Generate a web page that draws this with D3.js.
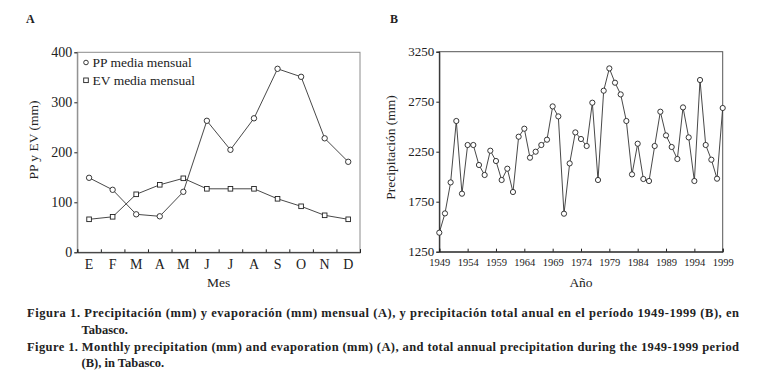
<!DOCTYPE html>
<html>
<head>
<meta charset="utf-8">
<script src="https://cdn.jsdelivr.net/npm/d3@7"></script>
<style>
  body { margin: 0; background: #fff; }
  svg { display: block; font-family: 'Liberation Serif', 'DejaVu Serif', serif; }
</style>
</head>
<body>
<svg id="chart"></svg>
<script>
// panel A - monthly means
const months = ['E', 'F', 'M', 'A', 'M', 'J', 'J', 'A', 'S', 'O', 'N', 'D'];
const ppMensual = [149, 125, 76, 72, 121, 263, 205, 268, 367, 351, 228, 181];
const evMensual = [66, 71, 116, 135, 148, 127, 127, 127, 107, 92, 74, 66];
const ticksA = [0, 100, 200, 300, 400];

// panel B - annual totals 1949-1999
const years = d3.range(1949, 2000);
const precipAnual = [1440, 1633, 1943, 2557, 1830, 2317, 2317, 2117, 2017, 2260,
  2157, 1967, 2080, 1847, 2400, 2480, 2190, 2250, 2317, 2370,
  2703, 2603, 1630, 2133, 2443, 2377, 2307, 2740, 1967, 2860,
  3083, 2940, 2823, 2557, 2023, 2330, 1977, 1957, 2307, 2650,
  2413, 2297, 2177, 2693, 2393, 1957, 2967, 2317, 2170, 1980,
  2687];
const ticksB = [1250, 1750, 2250, 2750, 3250];
const yearTicks = [1949, 1954, 1959, 1964, 1969, 1974, 1979, 1984, 1989, 1994, 1999];

const captions = [
  'Figura 1. Precipitación (mm) y evaporación (mm) mensual (A), y precipitación total anual en el período 1949-1999 (B), en',
  'Tabasco.',
  'Figure 1. Monthly precipitation (mm) and evaporation (mm) (A), and total annual precipitation during the 1949-1999 period',
  '(B), in Tabasco.'
];

const svg = d3.select('#chart')
.attr('width', 767)
.attr('height', 383);

svg.append('rect').attr('width', 767).attr('height', 383).attr('fill', '#fff');

const ink = '#222';

// ---------- panel A ----------
const xA = d3.scaleBand()
.domain(d3.range(months.length))
.range([77.3, 360]);

const xAedge = d3.scaleLinear()
.domain([0, months.length])
.range([77.3, 360]);

const yA = d3.scaleLinear()
.domain([0, 400])
.range([252.3, 52.3]);

const gA = svg.append('g');

gA.append('rect')
.attr('x', 77.3).attr('y', 52.3)
.attr('width', 360 - 77.3).attr('height', 200)
.attr('fill', 'none')
.attr('stroke', '#8c8c8c')
.attr('stroke-width', 1);

const axA = gA.append('g')
.attr('transform', 'translate(77.3,0)')
.call(d3.axisLeft(yA).tickValues(ticksA).tickSize(3).tickPadding(2).tickFormat(d3.format('d')));
axA.select('.domain').attr('stroke', '#8c8c8c');
axA.selectAll('.tick line').attr('stroke', ink);
axA.selectAll('text').style('font-size', '14px').attr('fill', ink)
.style('font-family', 'Liberation Serif');

const bxA = gA.append('g')
.attr('transform', 'translate(0,252.3)')
.call(d3.axisBottom(xAedge).tickValues(d3.range(months.length + 1)).tickSize(-3).tickFormat(''));
bxA.select('.domain').attr('stroke', ink);
bxA.selectAll('.tick line').attr('stroke', ink);

const lxA = gA.append('g')
.attr('transform', 'translate(0,252.3)')
.call(d3.axisBottom(xA).tickSize(0).tickPadding(7).tickFormat(i => months[i]));
lxA.select('.domain').remove();
lxA.selectAll('text').style('font-size', '14px').attr('fill', ink)
.style('font-family', 'Liberation Serif');

gA.append('text')
.attr('x', 218.7).attr('y', 287)
.attr('text-anchor', 'middle')
.style('font-size', '13.5px')
.attr('fill', ink)
.text('Mes');

gA.append('text')
.attr('transform', 'rotate(-90)')
.attr('x', -140).attr('y', 38)
.attr('text-anchor', 'middle')
.style('font-size', '13.5px')
.attr('fill', ink)
.text('PP y EV (mm)');

const lineA = d3.line()
.x((d, i) => xA(i) + xA.bandwidth() / 2)
.y(d => yA(d));

gA.append('path')
.datum(ppMensual)
.attr('fill', 'none').attr('stroke', '#333').attr('stroke-width', 0.9)
.attr('d', lineA);

gA.append('path')
.datum(evMensual)
.attr('fill', 'none').attr('stroke', '#333').attr('stroke-width', 0.9)
.attr('d', lineA);

gA.selectAll('circle.pp')
.data(ppMensual)
.enter()
.append('circle')
.attr('class', 'pp')
.attr('cx', (d, i) => xA(i) + xA.bandwidth() / 2)
.attr('cy', d => yA(d))
.attr('r', 2.7)
.attr('fill', '#fff').attr('stroke', ink).attr('stroke-width', 0.9);

gA.selectAll('rect.ev')
.data(evMensual)
.enter()
.append('rect')
.attr('class', 'ev')
.attr('x', (d, i) => xA(i) + xA.bandwidth() / 2 - 2.3)
.attr('y', d => yA(d) - 2.3)
.attr('width', 4.6).attr('height', 4.6)
.attr('fill', '#fff').attr('stroke', ink).attr('stroke-width', 0.9);

// legend
gA.append('circle')
.attr('cx', 86).attr('cy', 62.5).attr('r', 2.3)
.attr('fill', '#fff').attr('stroke', ink).attr('stroke-width', 0.9);
gA.append('text')
.attr('x', 92.5).attr('y', 67)
.style('font-size', '13.5px').attr('fill', ink)
.text('PP media mensual');

gA.append('rect')
.attr('x', 83.7).attr('y', 78).attr('width', 4.6).attr('height', 4.6)
.attr('fill', '#fff').attr('stroke', ink).attr('stroke-width', 0.9);
gA.append('text')
.attr('x', 92.5).attr('y', 85)
.style('font-size', '13.5px').attr('fill', ink)
.text('EV media mensual');

svg.append('text')
.attr('x', 26).attr('y', 23)
.style('font-size', '12px').style('font-weight', 'bold')
.attr('fill', ink)
.text('A');

// ---------- panel B ----------
const xB = d3.scaleLinear()
.domain([1949, 1999])
.range([439.3, 722.7]);

const yB = d3.scaleLinear()
.domain([1250, 3250])
.range([251.7, 51.7]);

const gB = svg.append('g');

gB.append('rect')
.attr('x', 439.3).attr('y', 51.7)
.attr('width', 722.7 - 439.3).attr('height', 200)
.attr('fill', 'none')
.attr('stroke', '#555')
.attr('stroke-width', 1);

const axB = gB.append('g')
.attr('transform', 'translate(439.3,0)')
.call(d3.axisLeft(yB).tickValues(ticksB).tickSize(3).tickPadding(2).tickFormat(d3.format('d')));
axB.select('.domain').attr('stroke', ink);
axB.selectAll('.tick line').attr('stroke', ink);
axB.selectAll('text').style('font-size', '13px').attr('fill', ink)
.style('font-family', 'Liberation Serif');

const bxB = gB.append('g')
.attr('transform', 'translate(0,251.7)')
.call(d3.axisBottom(xB).tickValues(yearTicks).tickSize(-3).tickPadding(7).tickFormat(d3.format('d')));
bxB.select('.domain').attr('stroke', ink);
bxB.selectAll('.tick line').attr('stroke', ink);
bxB.selectAll('text').style('font-size', '10.5px').attr('fill', ink)
.style('font-family', 'Liberation Serif');

gB.append('text')
.attr('x', 581).attr('y', 287)
.attr('text-anchor', 'middle')
.style('font-size', '13.5px')
.attr('fill', ink)
.text('Año');

gB.append('text')
.attr('transform', 'rotate(-90)')
.attr('x', -147.5).attr('y', 395)
.attr('text-anchor', 'middle')
.style('font-size', '13.5px')
.attr('fill', ink)
.text('Precipitación (mm)');

const lineB = d3.line()
.x((d, i) => xB(years[i]))
.y(d => yB(d));

gB.append('path')
.datum(precipAnual)
.attr('fill', 'none').attr('stroke', '#333').attr('stroke-width', 0.9)
.attr('d', lineB);

gB.selectAll('circle')
.data(precipAnual)
.enter()
.append('circle')
.attr('cx', (d, i) => xB(years[i]))
.attr('cy', d => yB(d))
.attr('r', 2.6)
.attr('fill', '#fff').attr('stroke', ink).attr('stroke-width', 0.9);

svg.append('text')
.attr('x', 390).attr('y', 23)
.style('font-size', '12px').style('font-weight', 'bold')
.attr('fill', ink)
.text('B');

// ---------- captions ----------
const cap = svg.append('g')
.style('font-size', '12.5px')
.style('font-weight', 'bold')
.attr('fill', ink);

cap.append('text').attr('x', 27).attr('y', 316.5)
.attr('textLength', 712).attr('lengthAdjust', 'spacing')
.text(captions[0]);
cap.append('text').attr('x', 81.5).attr('y', 334)
.text(captions[1]);
cap.append('text').attr('x', 27).attr('y', 351)
.attr('textLength', 712).attr('lengthAdjust', 'spacing')
.text(captions[2]);
cap.append('text').attr('x', 81.5).attr('y', 366.5)
.text(captions[3]);
</script>
</body>
</html>
